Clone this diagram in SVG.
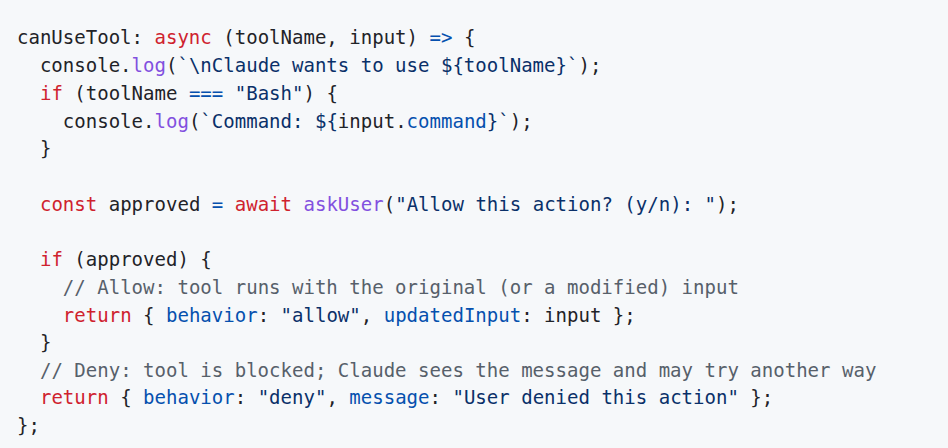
<svg xmlns="http://www.w3.org/2000/svg" width="948" height="448" viewBox="0 0 948 448">
<style>
text{font-family:"DejaVu Sans Mono","Liberation Mono",monospace;font-size:19.05px;fill:#1f2328;white-space:pre}
.k{fill:#cf222e}.f{fill:#8250df}.s{fill:#0a3069}.c{fill:#0550ae}.m{fill:#57606a}
</style>
<rect width="948" height="448" fill="#f6f8fa"/>
<g id="code" xml:space="preserve">
<text x="17" y="44">canUseTool: <tspan class="k">async</tspan> (toolName, input) <tspan class="c">=&gt;</tspan> {</text>
<text x="17" y="72">  console.<tspan class="f">log</tspan>(<tspan class="s">`\nClaude wants to use ${toolName}`</tspan>);</text>
<text x="17" y="100">  <tspan class="k">if</tspan> (toolName <tspan class="c">===</tspan> <tspan class="s">"Bash"</tspan>) {</text>
<text x="17" y="128">    console.<tspan class="f">log</tspan>(<tspan class="s">`Command: ${</tspan>input.<tspan class="c">command</tspan><tspan class="s">}`</tspan>);</text>
<text x="17" y="155">  }</text>
<text x="17" y="211">  <tspan class="k">const</tspan> approved <tspan class="c">=</tspan> <tspan class="k">await</tspan> <tspan class="f">askUser</tspan>(<tspan class="s">"Allow this action? (y/n): "</tspan>);</text>
<text x="17" y="266">  <tspan class="k">if</tspan> (approved) {</text>
<text x="17" y="294">    <tspan class="m">// Allow: tool runs with the original (or a modified) input</tspan></text>
<text x="17" y="322">    <tspan class="k">return</tspan> { <tspan class="c">behavior</tspan>: <tspan class="s">"allow"</tspan>, <tspan class="c">updatedInput</tspan>: input };</text>
<text x="17" y="349">  }</text>
<text x="17" y="377">  <tspan class="m">// Deny: tool is blocked; Claude sees the message and may try another way</tspan></text>
<text x="17" y="404">  <tspan class="k">return</tspan> { <tspan class="c">behavior</tspan>: <tspan class="s">"deny"</tspan>, <tspan class="c">message</tspan>: <tspan class="s">"User denied this action"</tspan> };</text>
<text x="17" y="432">};</text>
</g>
</svg>
